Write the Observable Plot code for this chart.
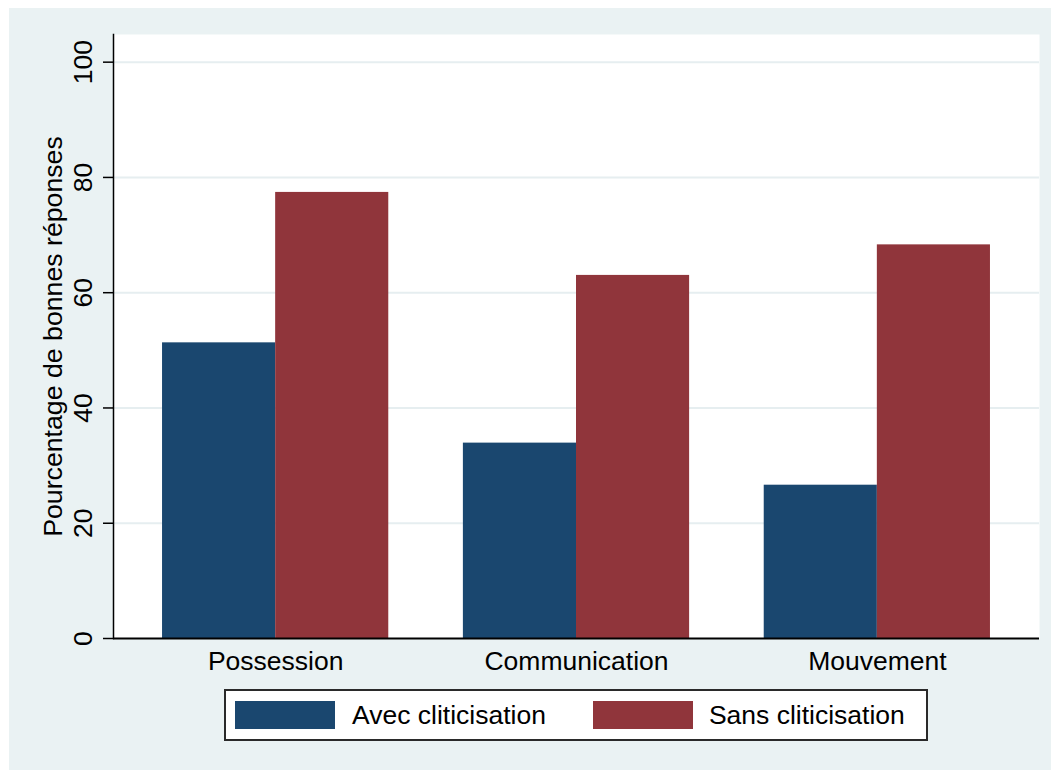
<!DOCTYPE html>
<html>
<head>
<meta charset="utf-8">
<script src="https://cdn.jsdelivr.net/npm/d3@7"></script>
<script src="https://cdn.jsdelivr.net/npm/@observablehq/plot@0.6"></script>
<style>
  body { margin: 0; background: #ffffff; font-family: "Liberation Sans", Arial, Helvetica, sans-serif; }
  #wrap { position: relative; width: 1051px; height: 770px; background: #ffffff; overflow: hidden; }
  #bg { position: absolute; left: 9px; top: 8px; right: 0; bottom: 0; background: #eaf2f3; }
  #chart { position: absolute; left: 0; top: 0; }
  #legend { position: absolute; left: 224px; top: 689px; width: 700px; height: 48px; border: 2px solid #2a2a2a; background: #ffffff;
            display: flex; align-items: center; box-sizing: content-box; }
  .sw { width: 100px; height: 28px; flex: none; }
  .lab { font-size: 26.5px; color: #000; white-space: nowrap; flex: none; }
</style>
</head>
<body>
<div id="wrap">
  <div id="bg"></div>
  <div id="chart"></div>
  <div id="legend"></div>
</div>
<script>
const categories = ["Possession", "Communication", "Mouvement"];
const series = ["Avec cliticisation", "Sans cliticisation"];
const avecValues = [51.3, 33.9, 26.6];
const sansValues = [77.4, 63.0, 68.3];
const yTicks = [0, 20, 40, 60, 80, 100];
const colors = ["#1a476f", "#90353b"];

const avecData = categories.map((c, i) => ({category: c, series: series[0], value: avecValues[i]}));
const sansData = categories.map((c, i) => ({category: c, series: series[1], value: sansValues[i]}));

const W = 1051, H = 690, ML = 113, MR = 12, MT = 34, MB = 52;
const padIn = 0.248, padOut = 0.163;
const bandwidth = (W - ML - MR) * (1 - padIn) / (categories.length - padIn + 2 * padOut);
const half = bandwidth / 2;

const font = '"Liberation Sans", Arial, Helvetica, sans-serif';

const chart = Plot.plot({
  width: W,
  height: H,
  marginLeft: ML,
  marginRight: MR,
  marginTop: MT,
  marginBottom: MB,
  style: { background: "transparent", fontFamily: font, fontSize: "26px", color: "#000" },
  x: { type: "band", domain: categories, paddingInner: padIn, paddingOuter: padOut, round: false, label: null },
  y: { domain: [0, 104.8], label: null },
  color: { domain: series, range: colors },
  marks: [
    Plot.frame({ fill: "white", stroke: null }),
    Plot.ruleY(yTicks.filter(d => d > 0), { stroke: "#e6eef0", strokeWidth: 2 }),
    Plot.barY(avecData, { x: "category", y: "value", fill: "series", insetRight: half }),
    Plot.barY(sansData, { x: "category", y: "value", fill: "series", insetLeft: half }),
    Plot.axisX({ tickSize: 0, tickPadding: 13, fontSize: 26.5, label: null }),
    Plot.axisY({ ticks: yTicks, tickSize: 10, tickFormat: () => "", stroke: "#000", strokeWidth: 1.5, label: null }),
    Plot.text(yTicks, { y: d => d, text: d => String(d), frameAnchor: "left", dx: -30, rotate: -90,
                        textAnchor: "middle", lineAnchor: "middle", fontSize: 26.5, fill: "#000" }),
    Plot.text(["Pourcentage de bonnes réponses"], { text: d => d, frameAnchor: "left", dx: -60, rotate: -90,
                        textAnchor: "middle", lineAnchor: "middle", fontSize: 26.7, fill: "#000" }),
    Plot.frame({ anchor: "left", stroke: "#000", strokeWidth: 1.5 }),
    Plot.ruleY([0], { stroke: "#000", strokeWidth: 2 })
  ]
});
document.getElementById("chart").appendChild(chart);

const legend = document.getElementById("legend");
const margins = [[9, 17], [47, 16]];
series.forEach((s, i) => {
  const sw = document.createElement("div");
  sw.className = "sw";
  sw.style.background = colors[i];
  sw.style.marginLeft = margins[i][0] + "px";
  const lab = document.createElement("div");
  lab.className = "lab";
  lab.textContent = s;
  lab.style.marginLeft = margins[i][1] + "px";
  legend.appendChild(sw);
  legend.appendChild(lab);
});
</script>
</body>
</html>
